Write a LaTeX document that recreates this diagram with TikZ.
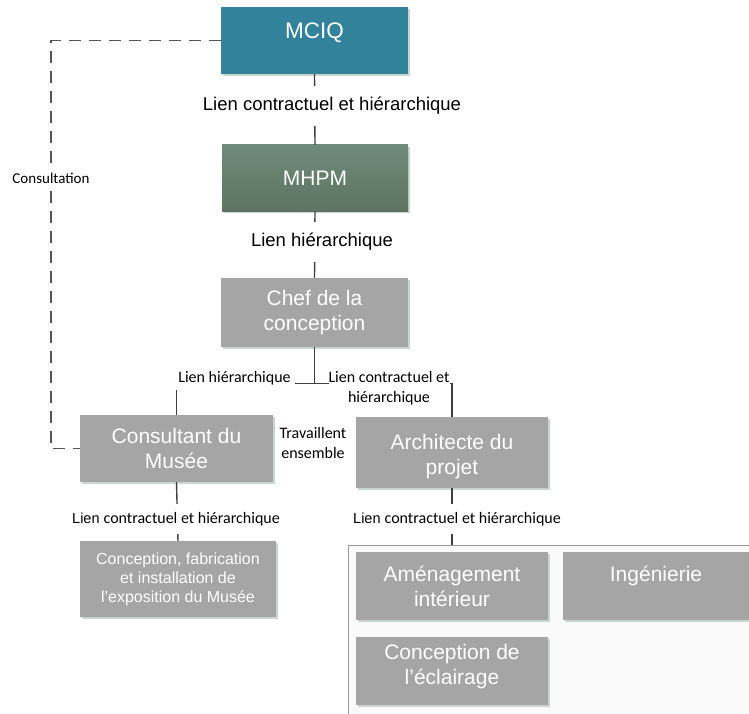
\documentclass[tikz,border=0pt]{standalone}
\usepackage{fontspec}
\setmainfont{Liberation Sans}
\newfontfamily\calfont{Carlito}
\usetikzlibrary{positioning}
\definecolor{teal1}{HTML}{31829A}
\definecolor{grn1}{HTML}{6F8B79}
\definecolor{grn2}{HTML}{5D7462}
\definecolor{gbox}{HTML}{A5A5A5}
\definecolor{shadowc}{HTML}{C9D5CE}
\definecolor{linec}{HTML}{404040}
\definecolor{dashc}{HTML}{555555}
\definecolor{contfill}{HTML}{FAFAFA}
\definecolor{contdraw}{HTML}{9A9A9A}
\tikzset{
  box/.style={rectangle, fill=gbox, text=white, align=center, inner sep=0pt,
    font=\fontsize{21}{25}\selectfont,
    preaction={fill=shadowc, transform canvas={shift={(2pt,-2pt)}}}},
  conn/.style={draw=linec, line width=1.4pt},
  lab/.style={fill=white, inner xsep=3pt, inner ysep=11pt, text=black, align=center},
  arial/.style={font=\fontsize{18.5}{22}\selectfont},
  cal/.style={font=\calfont\fontsize{16}{20}\selectfont},
  dashline/.style={draw=dashc, line width=1.4pt, dash pattern=on 12pt off 8pt}
}
\begin{document}
\begin{tikzpicture}[x=1pt,y=-1pt]
\useasboundingbox (0,0) rectangle (749,714);
% container
\node[rectangle, fill=contfill, draw=contdraw, line width=0.8pt, minimum width=420pt, minimum height=180pt, anchor=north west, inner sep=0pt] (cont) at (348,545) {};
% boxes
\node[box, fill=teal1, minimum width=187pt, minimum height=67pt, font=\fontsize{22.5}{26}\selectfont] (mciq) at (314.5,40.5) {MCIQ\rule[-19pt]{0pt}{19pt}};
\node[box, top color=grn1, bottom color=grn2, minimum width=186pt, minimum height=66pt] (mhpm) at (315,178) {MHPM};
\node[box, minimum width=187pt, minimum height=69pt] (chef) at (314.5,312.5) {Chef de la\\conception};
\node[box, minimum width=193pt, minimum height=67pt] (cons) at (176.5,448.5) {Consultant du\\Musée};
\node[box, minimum width=192pt, minimum height=71pt] (arch) at (452,452.5) {\rule{0pt}{24pt}Architecte du\\projet};
\node[box, minimum width=196pt, minimum height=76pt, font=\fontsize{16}{19}\selectfont] (fab) at (178,579) {Conception, fabrication\\et installation de\\l’exposition du Musée};
\node[box, minimum width=192pt, minimum height=68pt] (amen) at (452,586) {Aménagement\\intérieur};
\node[box, minimum width=186pt, minimum height=68pt] (inge) at (656,586) {Ingénierie\rule[-24pt]{0pt}{24pt}};
\node[box, minimum width=192pt, minimum height=68pt] (ecl) at (452,671) {Conception de\\l’éclairage\rule[-12.5pt]{0pt}{12.5pt}};
% connectors
\draw[conn] (mciq.south) -- (mhpm.north);
\node[lab, arial] (l1) at (332,106) {Lien contractuel et hiérarchique};
\draw[conn] (mhpm.south) -- (chef.north);
\node[lab, arial] (l2) at (322,242) {Lien hiérarchique};
\draw[conn] (chef.south) -- ++(0,36) coordinate (j);
\draw[conn] (j) -| (cons.north);
\draw[conn] (j) -| (arch.north);
\node[lab, cal, inner ysep=5pt, inner xsep=4pt] (l3) at (234.5,378) {Lien hiérarchique};
\node[lab, cal, inner ysep=1pt, inner xsep=0pt] (l4) at (389,388) {Lien contractuel et\\hiérarchique};
\node[cal, align=center] (trav) at (313,443) {Travaillent\\ensemble};
\draw[conn] (cons.south) -- (fab.north);
\node[lab, inner ysep=8pt] (l5) at (176,519) {\fontsize{14.5}{18}\selectfont Lien \calfont\fontsize{16}{18}\selectfont contractuel et hiérarchique};
\coordinate (contTop) at (arch.south |- cont.north);
\draw[conn] (arch.south) -- (contTop);
\node[lab, inner ysep=8pt] (l6) at (457,519) {\fontsize{14.5}{18}\selectfont Lien \calfont\fontsize{16}{18}\selectfont contractuel et hiérarchique};
% consultation dashed
\coordinate (dA) at (51,40.5);
\draw[dashline] (mciq.west) -- (dA) |- (cons.west);
\node[lab, font=\calfont\fontsize{15}{18}\selectfont, inner ysep=4pt, inner xsep=2pt] (l7) at (51,178) {Consultation};
\end{tikzpicture}
\end{document}
